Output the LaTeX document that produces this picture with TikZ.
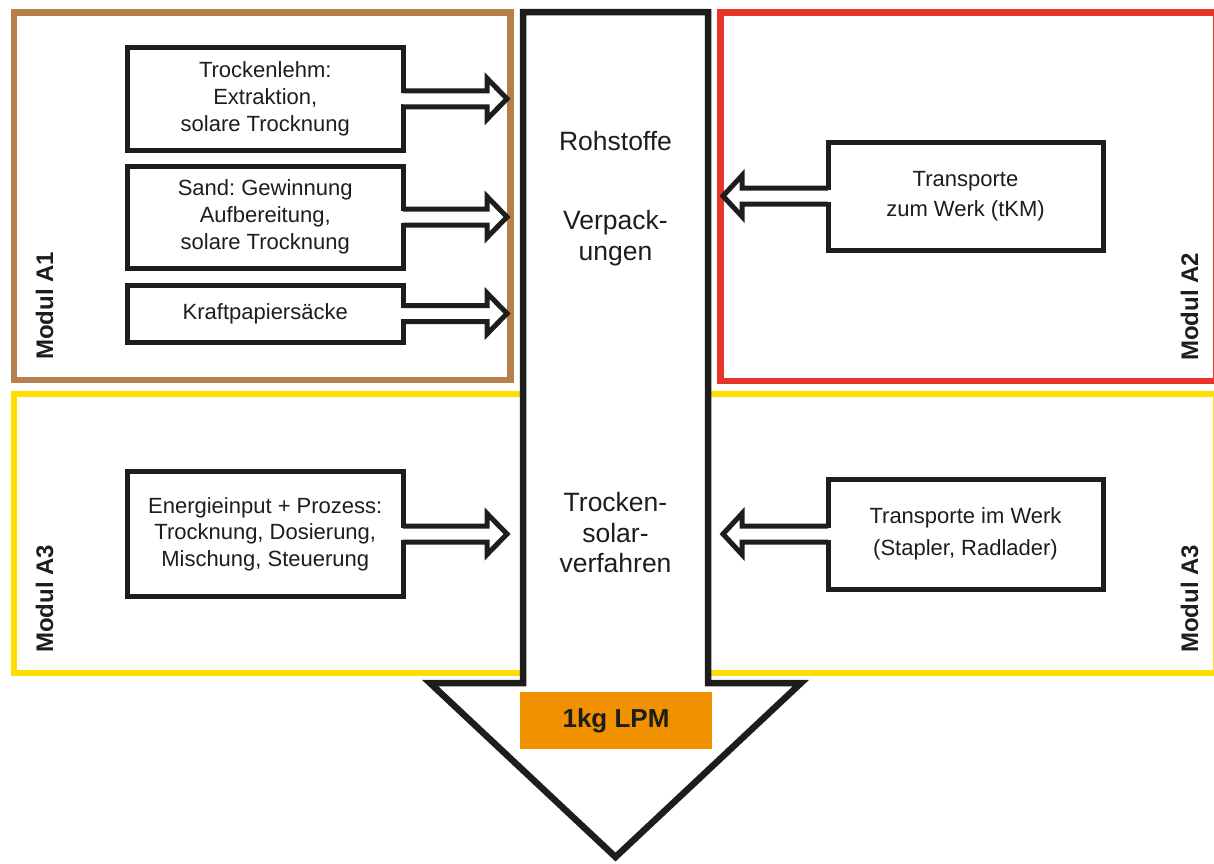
\documentclass[tikz,border=0pt]{standalone}
\usepackage{fontspec}
\setmainfont{Liberation Sans}
\usetikzlibrary{calc}
\frenchspacing
\definecolor{ink}{HTML}{1D1D1B}
\definecolor{brownA}{HTML}{B5804C}
\definecolor{redA}{HTML}{E7352C}
\definecolor{yellowA}{HTML}{FFDD00}
\definecolor{orangeA}{HTML}{F29100}
\newcommand{\rhollow}[1]{%
  \fill[white] ($(#1.east)+(-3,-5.6)$) rectangle ($(#1.east)+(3,5.6)$);
  \filldraw[hollow] ($(#1.east)+(0,-8)$) -- ($(#1.east)+(84,-8)$) -- ($(#1.east)+(84,-20.5)$)
    -- ($(#1.east)+(104,0)$) -- ($(#1.east)+(84,20.5)$) -- ($(#1.east)+(84,8)$) -- ($(#1.east)+(0,8)$);}
\newcommand{\lhollow}[1]{%
  \fill[white] ($(#1.west)+(-3,-5.6)$) rectangle ($(#1.west)+(3,5.6)$);
  \filldraw[hollow] ($(#1.west)+(0,-8)$) -- ($(#1.west)+(-86,-8)$) -- ($(#1.west)+(-86,-20.5)$)
    -- ($(#1.west)+(-105,0)$) -- ($(#1.west)+(-86,20.5)$) -- ($(#1.west)+(-86,8)$) -- ($(#1.west)+(0,8)$);}
\begin{document}
\begin{tikzpicture}[x=1pt,y=-1pt,
  frame/.style={line width=6.5pt},
  procbox/.style={draw=ink,line width=5pt,fill=white,minimum width=275.5pt,inner sep=0pt,outer sep=0pt,
    align=center,font=\fontsize{22}{26.7}\selectfont,text=ink},
  hollow/.style={draw=ink,line width=5pt,fill=white},
  modlabel/.style={rotate=90,anchor=base west,font=\fontsize{24}{28}\selectfont\bfseries,text=ink,inner sep=0pt},
  midtext/.style={align=center,font=\fontsize{26.5}{30.5}\selectfont,text=ink,inner sep=0pt}
]
\useasboundingbox (0,0) rectangle (1214,863);
% module frames
\draw[frame, yellowA] (14,394) rectangle (1216,673);
\draw[frame, brownA] (14,12.5) rectangle (510.5,380);
\draw[frame, redA] (720.5,12.5) rectangle (1216,381);
% big process arrow
\filldraw[draw=ink,line width=6.5pt,fill=white] (523,12) -- (708,12) -- (708,683) -- (801,683)
  -- (615.5,857) -- (430,683) -- (523,683) -- cycle;
% boxes
\node[procbox, minimum height=102.5pt] (b1) at (265.25,98.75) {Trockenlehm:\\Extraktion,\\solare Trocknung};
\node[procbox, minimum height=102pt] (b2) at (265.25,217) {Sand: Gewinnung\\Aufbereitung,\\solare Trocknung};
\node[procbox, minimum height=57pt] (b3) at (265.25,313.5) {Kraftpapiersäcke};
\node[procbox, minimum height=125pt] (b4) at (265.25,534) {Energieinput + Prozess:\\Trocknung, Dosierung,\\Mischung, Steuerung};
\node[procbox, font=\fontsize{22}{30.5}\selectfont, minimum width=275pt, minimum height=108pt] (t1) at (965.5,196) {Transporte\\zum Werk (tKM)};
\node[procbox, font=\fontsize{22}{31.5}\selectfont, minimum width=275pt, minimum height=110pt] (t2) at (965.5,534) {Transporte im Werk\\(Stapler, Radlader)};
% hollow arrows
\rhollow{b1}
\rhollow{b2}
\rhollow{b3}
\rhollow{b4}
\lhollow{t1}
\lhollow{t2}
% central texts
\node[midtext, anchor=base] (roh) at (615.5,150) {Rohstoffe};
\node[midtext] (verp) at (615.5,238) {Verpack-\\ungen};
\node[midtext] (tsv) at (615.5,533) {Trocken-\\solar-\\verfahren};
% result label
\node[fill=orangeA, minimum width=192pt, minimum height=57pt, inner sep=0pt,
  font=\fontsize{26}{30}\selectfont\bfseries, text=ink] (lpm) at (616,720.5) {\raisebox{-2pt}{1kg LPM}};
% module labels
\node[modlabel] (mA1) at (53,360) {Modul A1};
\node[modlabel] (mA3l) at (53,653) {Modul A3};
\node[modlabel] (mA2) at (1198,361) {Modul A2};
\node[modlabel] (mA3r) at (1198,653) {Modul A3};
\end{tikzpicture}
\end{document}
